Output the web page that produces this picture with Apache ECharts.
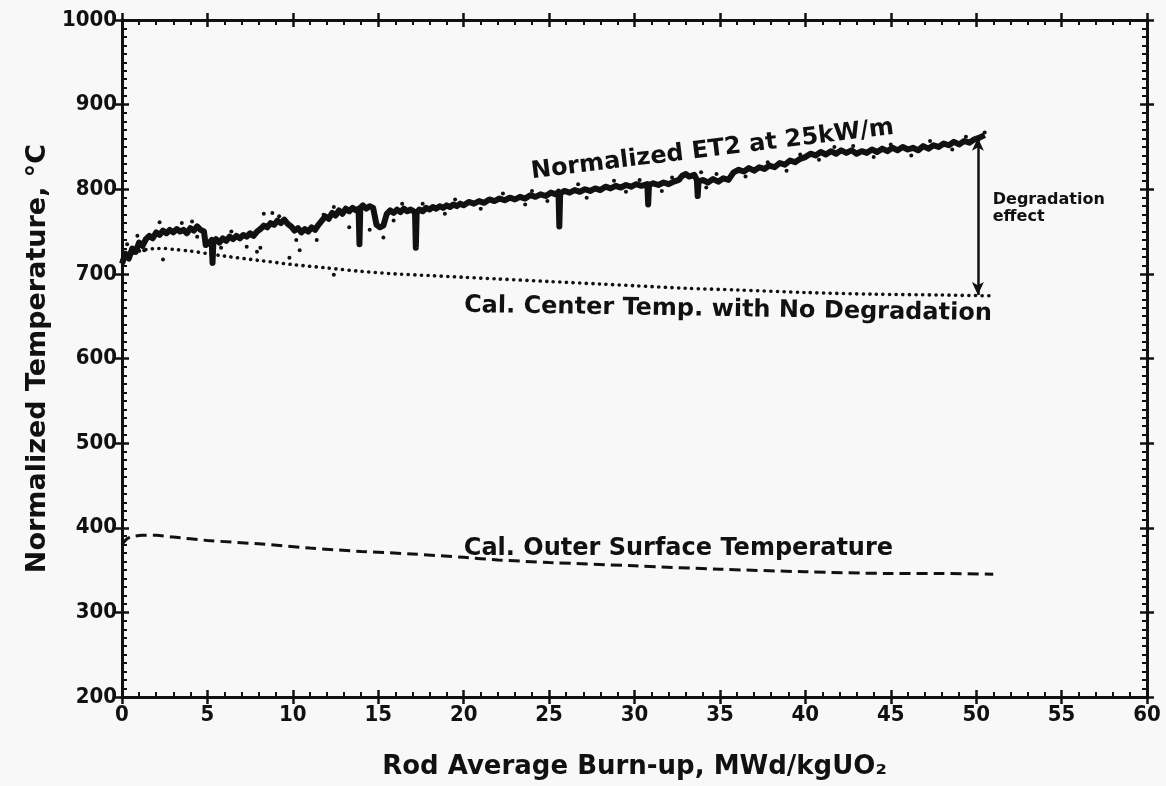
<!DOCTYPE html>
<html>
<head>
<meta charset="utf-8">
<script src="https://cdn.jsdelivr.net/npm/echarts@6/dist/echarts.min.js"></script>
<style>
  html, body { margin: 0; padding: 0; background: #f8f8f8; }
  #chart { width: 1166px; height: 786px; }
</style>
</head>
<body>
<div id="chart"></div>
<script>
// Measured fuel centre temperature (ET2), normalized to 25 kW/m
const et2Burnup = [
  0, 0.2, 0.4, 0.6, 0.8, 1.0, 1.2, 1.4, 1.6, 1.8, 2.0, 2.2, 2.4, 2.6, 2.8, 3.0, 3.2, 3.4, 3.6, 3.8,
  4.0, 4.2, 4.4, 4.6, 4.8, 4.9, 5.1, 5.25, 5.3, 5.35, 5.5, 5.7, 5.9, 6.1, 6.3, 6.5, 6.7, 6.9, 7.1, 7.3,
  7.5, 7.7, 7.9, 8.1, 8.3, 8.5, 8.7, 8.9, 9.1, 9.3, 9.5, 9.7, 9.9, 10.1, 10.3, 10.5, 10.7, 10.9, 11.1, 11.3,
  11.5, 11.7, 11.9, 12.1, 12.3, 12.5, 12.7, 12.9, 13.1, 13.3, 13.5, 13.7, 13.85, 13.9, 13.95, 14.1, 14.3, 14.5, 14.7, 14.9,
  15.1, 15.3, 15.5, 15.7, 15.9, 16.1, 16.3, 16.5, 16.7, 16.9, 17.15, 17.2, 17.25, 17.4, 17.6, 17.8, 18.0, 18.2, 18.4, 18.6,
  18.8, 19.0, 19.2, 19.4, 19.6, 19.8, 20.0, 20.3, 20.6, 20.9, 21.2, 21.5, 21.8, 22.1, 22.4, 22.7, 23.0, 23.3, 23.6, 23.9,
  24.2, 24.5, 24.8, 25.1, 25.4, 25.55, 25.6, 25.65, 25.9, 26.2, 26.5, 26.8, 27.1, 27.4, 27.7, 28.0, 28.3, 28.6, 28.9, 29.2,
  29.5, 29.8, 30.1, 30.4, 30.75, 30.8, 30.85, 31.1, 31.4, 31.7, 32.0, 32.3, 32.6, 32.8, 33.0, 33.2, 33.5, 33.65, 33.7, 33.75,
  34.0, 34.3, 34.6, 34.9, 35.2, 35.5, 35.8, 36.1, 36.4, 36.7, 37.0, 37.3, 37.6, 37.9, 38.2, 38.5, 38.8, 39.1, 39.4, 39.7,
  40.0, 40.3, 40.6, 40.9, 41.2, 41.5, 41.8, 42.1, 42.4, 42.7, 43.0, 43.3, 43.6, 43.9, 44.2, 44.5, 44.8, 45.1, 45.4, 45.7,
  46.0, 46.3, 46.6, 46.9, 47.2, 47.5, 47.8, 48.1, 48.4, 48.7, 49.0, 49.3, 49.6, 49.9, 50.2, 50.5
];
const et2Temp = [
  712, 724, 718, 730, 726, 737, 733, 741, 745, 742, 749, 746, 751, 748, 752, 749, 753, 750, 752, 748,
  754, 751, 756, 752, 750, 734, 737, 740, 713, 738, 741, 737, 742, 739, 744, 741, 745, 742, 746, 744,
  748, 745, 750, 753, 757, 755, 760, 758, 763, 760, 764, 759, 756, 751, 754, 749, 753, 750, 755, 752,
  758, 763, 768, 765, 772, 769, 775, 771, 777, 774, 778, 775, 777, 735, 778, 781, 777, 780, 778, 758,
  755, 757, 771, 775, 772, 776, 773, 777, 774, 776, 773, 731, 772, 776, 774, 778, 776, 779, 777, 780,
  778, 781, 779, 782, 780, 783, 781, 785, 783, 786, 784, 788, 786, 789, 787, 790, 788, 791, 789, 793,
  791, 794, 792, 796, 794, 797, 756, 795, 798, 796, 799, 797, 800, 798, 801, 799, 803, 801, 804, 802,
  805, 803, 806, 804, 806, 782, 805, 807, 805, 808, 806, 809, 811, 816, 818, 815, 817, 811, 792, 809,
  811, 808, 812, 809, 813, 811, 820, 823, 821, 825, 822, 826, 824, 828, 826, 831, 829, 834, 832, 836,
  838, 842, 840, 844, 841, 845, 842, 846, 843, 846, 842, 845, 843, 847, 844, 848, 845, 849, 846, 850,
  847, 849, 846, 851, 848, 852, 850, 854, 852, 856, 853, 857, 855, 859, 861, 864
];

// Scattered individual ET2 readings around the main trace
const et2DotBurnup = [
  0.3, 0.9, 1.3, 2.2, 2.4, 3.5, 4.4, 4.1, 5.8, 6.4, 7.3, 7.9, 8.1, 8.3, 8.8, 9.2, 9.8, 10.2, 10.4, 11.4,
  11.8, 12.4, 12.4, 13.3, 14.5, 15.3, 16.4, 15.9, 17.6, 18.9, 19.5, 21.0, 22.3, 23.6, 24.0, 24.9, 26.7, 27.2, 28.8, 29.5,
  30.3, 31.6, 32.2, 34.2, 34.8, 36.5, 37.8, 38.9, 39.7, 40.8, 41.7, 44.0, 45.0, 46.2, 47.3, 48.6, 49.4, 50.1, 50.5, 33.9, 42.8
];
const et2DotTemp = [
  735, 745, 728, 761, 717, 760, 744, 762, 731, 750, 732, 726, 731, 771, 772, 768, 719, 740, 728, 740,
  770, 779, 699, 755, 752, 743, 783, 763, 783, 771, 788, 777, 795, 782, 798, 786, 806, 790, 810, 797,
  811, 798, 814, 802, 818, 815, 832, 822, 841, 835, 850, 838, 853, 840, 857, 847, 862, 852, 867, 820, 851
];

// Calculated centre temperature assuming no conductivity degradation
const centerBurnup = [0, 0.5, 1, 1.5, 2, 2.5, 3, 4, 5, 6, 8, 10, 12, 14, 16, 18, 20, 22, 25, 28, 30, 33, 36, 40, 44, 48, 51];
const centerTemp = [716, 723, 727, 729, 730, 730, 729, 727, 724, 721, 716, 711, 707, 703, 700, 698, 696, 694, 691, 688, 686, 683, 681, 678, 676, 675, 674];

// Calculated cladding outer surface temperature
const outerBurnup = [0, 0.3, 0.7, 1.2, 2, 3, 5, 8, 11, 14, 17, 20, 22, 25, 30, 35, 40, 45, 48, 51];
const outerTemp = [380, 387, 390, 391, 391, 389, 385, 381, 376, 372, 369, 365, 362, 359, 355, 351, 348, 346, 346, 345];

// Degradation effect arrow at the end of the measured trace
const degradationBurnup = 50.1;
const degradationFrom = 861;
const degradationTo = 675;

const xTicks = { min: 0, max: 60, interval: 5 };
const yTicks = { min: 200, max: 1000, interval: 100 };

const pairs = (xs, ys) => xs.map((x, i) => [x, ys[i]]);

const FONT = 'DejaVu Sans';
const NUM_FONT = 'DejaVu Sans Condensed, DejaVu Sans';
const INK = '#111';

function frameAxis(kind, position, inside, extra) {
  const base = kind === 'x' ? xTicks : yTicks;
  return Object.assign({
    type: 'value',
    position: position,
    min: base.min, max: base.max, interval: base.interval,
    splitLine: { show: false },
    axisLine: { show: true, onZero: false, lineStyle: { color: INK, width: 3 } },
    axisTick: { show: true, inside: inside, length: 7, lineStyle: { color: INK, width: 2.5 } },
    minorTick: { show: inside, splitNumber: kind === 'x' ? 5 : 10, length: 5, lineStyle: { color: INK, width: 2 } },
    axisLabel: { show: false }
  }, extra || {});
}

const chart = echarts.init(document.getElementById('chart'), null, { renderer: 'canvas' });

chart.setOption({
  backgroundColor: '#f8f8f8',
  animation: false,
  grid: { left: 122, right: 19, top: 20, bottom: 89 },
  xAxis: [
    frameAxis('x', 'bottom', false, {
      axisLabel: { show: true, color: INK, fontFamily: NUM_FONT, fontWeight: 'bold', fontSize: 22, margin: 7,
        formatter: v => String(v) },
      name: 'Rod Average Burn-up, MWd/kgUO\u2082',
      nameLocation: 'middle', nameGap: 57,
      nameTextStyle: { color: INK, fontFamily: FONT, fontWeight: 'bold', fontSize: 26 }
    }),
    frameAxis('x', 'bottom', true),
    frameAxis('x', 'top', false),
    frameAxis('x', 'top', true)
  ],
  yAxis: [
    frameAxis('y', 'left', false, {
      axisLabel: { show: true, color: INK, fontFamily: NUM_FONT, fontWeight: 'bold', fontSize: 22, margin: 5,
        formatter: v => String(v) },
      name: 'Normalized Temperature, \u00B0C',
      nameLocation: 'middle', nameGap: 58,
      nameTextStyle: { color: INK, fontFamily: FONT, fontWeight: 'bold', fontSize: 27 }
    }),
    frameAxis('y', 'left', true),
    frameAxis('y', 'right', false),
    frameAxis('y', 'right', true)
  ],
  series: [
    {
      name: 'Cal. Outer Surface Temperature',
      type: 'line',
      data: pairs(outerBurnup, outerTemp),
      smooth: 0.3,
      symbol: 'none',
      lineStyle: { color: INK, width: 3, type: [11, 6] },
      z: 3
    },
    {
      name: 'Cal. Center Temp. with No Degradation',
      type: 'line',
      data: pairs(centerBurnup, centerTemp),
      smooth: 0.3,
      symbol: 'none',
      lineStyle: { color: INK, width: 3.6, type: [0.1, 6.5], cap: 'round' },
      z: 3
    },
    {
      name: 'Normalized ET2 at 25kW/m',
      type: 'line',
      data: pairs(et2Burnup, et2Temp),
      symbol: 'none',
      lineStyle: { color: INK, width: 6, join: 'round' },
      z: 4,
      markLine: {
        silent: true,
        symbol: ['arrow', 'arrow'],
        symbolSize: [9, 13],
        lineStyle: { color: INK, width: 2.5, type: 'solid' },
        label: { show: false },
        data: [[
          { coord: [degradationBurnup, degradationFrom] },
          { coord: [degradationBurnup, degradationTo] }
        ]]
      }
    },
    {
      name: 'ET2 readings',
      type: 'scatter',
      data: pairs(et2DotBurnup, et2DotTemp),
      symbolSize: 4,
      itemStyle: { color: INK, opacity: 1 },
      z: 4
    },
    {
      // text annotations anchored in data coordinates
      type: 'scatter',
      symbolSize: 1,
      itemStyle: { color: 'rgba(0,0,0,0)', opacity: 1 },
      silent: true,
      z: 5,
      data: [
        { value: [34.6, 846], label: { formatter: 'Normalized ET2 at 25kW/m', rotate: 7 } },
        { value: [35.5, 657], label: { formatter: 'Cal. Center Temp. with No Degradation', rotate: -0.9 } },
        { value: [32.6, 374], label: { formatter: 'Cal. Outer Surface Temperature' } },
        { value: [51.0, 777], label: {
            formatter: 'Degradation\neffect', align: 'left', fontSize: 16, lineHeight: 17 } }
      ],
      label: {
        show: true,
        position: [0, 0],
        color: INK,
        fontFamily: FONT,
        fontWeight: 'bold',
        fontSize: 24,
        align: 'center',
        verticalAlign: 'middle'
      }
    }
  ]
});
</script>
</body>
</html>
